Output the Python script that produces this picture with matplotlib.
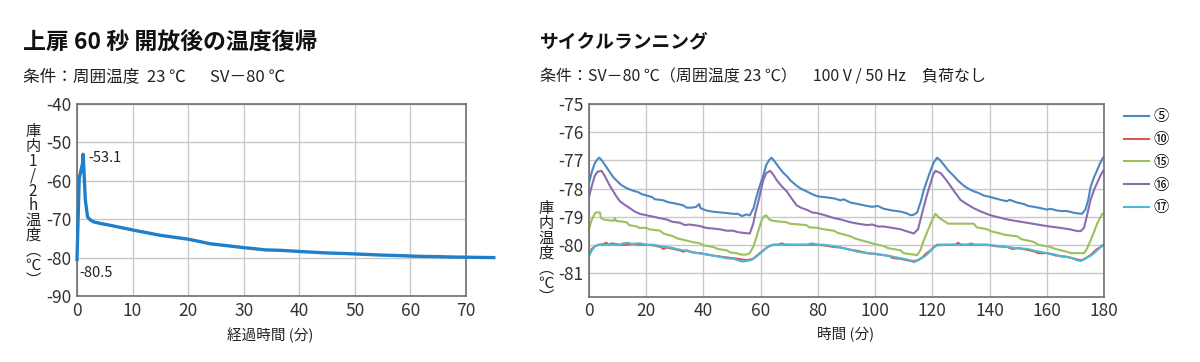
import matplotlib
matplotlib.use("Agg")
import matplotlib.pyplot as plt

plt.rcParams['font.family'] = ['Noto Sans CJK JP', 'DejaVu Sans']
plt.rcParams['axes.unicode_minus'] = False

# left chart: door open 60 s, recovery
rec_t = [0, 0.4, 1.0, 1.1, 1.5, 1.9, 2.4, 3.0, 4.2, 6, 8, 10, 12.5, 15, 17.5, 20, 22,
         24, 27, 30, 32, 34, 36.5, 40, 42.5, 45, 47.5, 50, 52.5, 55, 57.5, 60, 62.5,
         65, 67.5, 70, 72.5, 75]
rec_v = [-80.5, -59.3, -55.5, -53.1, -65.0, -69.4, -70.2, -70.7, -71.1, -71.6, -72.2,
         -72.8, -73.5, -74.2, -74.7, -75.2, -75.8, -76.4, -76.9, -77.4, -77.7, -78.0,
         -78.1, -78.4, -78.6, -78.8, -78.9, -79.05, -79.2, -79.35, -79.45, -79.6,
         -79.7, -79.75, -79.85, -79.9, -79.95, -80.0]
rec_ticks_x = [0, 10, 20, 30, 40, 50, 60, 70]
rec_ticks_y = [-40, -50, -60, -70, -80, -90]

# right chart: cycle running
s5_t = [0, 1, 2, 3, 3.6, 4.5, 5.5, 6.5, 7.5, 8.5, 9.7, 11, 12, 13.5, 15.5, 17, 18.5, 20.2,
        22, 23, 24.8, 26, 27.5, 29.5, 31, 33, 34.1, 36, 37.5, 38.5, 39, 41, 43, 45.8, 48,
        50.4, 52, 53.5, 55, 56.2, 57.5, 58.5, 59.7, 61, 62, 63, 63.8, 65, 66.8, 68, 69.1,
        70.5, 72.6, 74, 76, 78, 80, 82, 85.6, 88, 89, 91.4, 94, 97.2, 99, 101, 103, 106,
        108.9, 111, 112.5, 113.5, 114.7, 116, 117, 118.2, 119.4, 120.6, 121.7, 122.8, 124,
        125.5, 127.5, 129, 131, 132.5, 134.5, 136, 138, 140.3, 142, 143.8, 146, 147, 149.7,
        152, 153.5, 155.5, 158, 160, 161.3, 163.5, 165, 167, 169, 170.5, 172.3, 173.5,
        174.5, 175.3, 176.5, 177.6, 178.6, 179.7]
s5_v = [-77.8, -77.4, -77.1, -76.95, -76.9, -77.0, -77.15, -77.3, -77.45, -77.6, -77.72,
        -77.85, -77.92, -78.0, -78.08, -78.12, -78.2, -78.25, -78.3, -78.38, -78.4, -78.42,
        -78.48, -78.52, -78.55, -78.6, -78.68, -78.68, -78.65, -78.55, -78.7, -78.78,
        -78.82, -78.85, -78.87, -78.9, -78.9, -78.98, -78.92, -78.95, -78.7, -78.3, -77.9,
        -77.5, -77.15, -76.98, -76.9, -77.05, -77.3, -77.45, -77.55, -77.72, -77.9, -78.0,
        -78.1, -78.2, -78.28, -78.3, -78.35, -78.42, -78.38, -78.5, -78.55, -78.62, -78.65,
        -78.62, -78.72, -78.78, -78.82, -78.88, -78.95, -78.93, -78.85, -78.45, -78.05,
        -77.7, -77.35, -77.05, -76.9, -77.0, -77.15, -77.35, -77.55, -77.72, -77.9, -78.0,
        -78.1, -78.15, -78.25, -78.3, -78.35, -78.4, -78.45, -78.4, -78.5, -78.55, -78.62,
        -78.65, -78.7, -78.75, -78.72, -78.78, -78.8, -78.8, -78.85, -78.88, -78.9, -78.75,
        -78.4, -77.95, -77.6, -77.35, -77.1, -76.9]

s10_t = [0, 1, 2.1, 3.5, 5, 6, 7, 8, 10.8, 13, 15, 17.8, 20, 22.5, 25, 26, 27.1, 29.5,
         31.8, 33, 34, 36.5, 39, 41, 43, 45.8, 48, 50.4, 52, 55, 57.4, 58.5, 59.7, 61, 62,
         63, 64.4, 66, 67.5, 68.5, 72, 76, 80, 82, 85.6, 88, 91.4, 94, 97.2, 100, 103, 105,
         106, 108.9, 111, 113.5, 115, 116.5, 118, 119.4, 120.5, 121.7, 125, 128, 129, 130,
         132.2, 136, 139.2, 142, 146.2, 148, 150, 153.2, 156, 157, 160.2, 163, 167, 169,
         171.8, 173, 174.1, 175.5, 176.5, 177.6, 178.5, 179.7]
s10_v = [-80.3, -80.15, -80.05, -80.0, -79.98, -79.93, -80.0, -79.95, -80.0, -80.0, -79.98,
         -80.0, -80.0, -80.02, -80.08, -80.15, -80.1, -80.15, -80.2, -80.25, -80.2, -80.28,
         -80.3, -80.35, -80.38, -80.42, -80.45, -80.48, -80.5, -80.55, -80.5, -80.4, -80.3,
         -80.2, -80.1, -80.05, -80.0, -80.0, -79.95, -80.0, -80.0, -80.0, -80.0, -80.02,
         -80.08, -80.1, -80.18, -80.22, -80.3, -80.33, -80.37, -80.4, -80.47, -80.5, -80.55,
         -80.58, -80.55, -80.45, -80.3, -80.2, -80.08, -80.0, -80.0, -80.0, -79.93, -80.0,
         -80.0, -80.0, -80.0, -80.05, -80.08, -80.15, -80.12, -80.18, -80.25, -80.3, -80.3,
         -80.38, -80.43, -80.48, -80.55, -80.52, -80.45, -80.35, -80.25, -80.15, -80.1, -80.0]

s15_t = [0, 1, 2, 2.4, 3.8, 4.2, 5, 8.5, 9, 9.5, 13.2, 14, 16.7, 17.5, 20.2, 21, 24.8, 26,
         29.5, 31, 34.1, 36, 38.8, 40, 43.4, 45, 48.1, 49.5, 51.6, 53, 55, 56.2, 57.5, 58.6,
         59.5, 60.3, 61, 61.9, 63, 64.4, 67, 69.1, 70, 76, 77, 80, 82, 85.6, 87, 91.4, 93,
         97.2, 99, 103, 104.5, 108.9, 110, 114.7, 115.8, 117, 118.2, 119.4, 120.3, 121.1,
         122.5, 124, 125.5, 129.8, 134.5, 135.5, 139.2, 140.5, 143.8, 145.5, 149.7, 151,
         155.5, 157, 161.3, 163, 167, 168.5, 173, 174, 175.3, 176.5, 177.6, 178.6, 179.4]
s15_v = [-79.45, -79.1, -78.9, -78.85, -78.85, -79.05, -79.1, -79.15, -79.05, -79.15,
         -79.2, -79.3, -79.35, -79.4, -79.4, -79.45, -79.5, -79.6, -79.7, -79.78, -79.85,
         -79.9, -79.95, -80.02, -80.08, -80.15, -80.2, -80.28, -80.3, -80.35, -80.35, -80.3,
         -80.05, -79.7, -79.4, -79.15, -79.0, -78.95, -79.1, -79.15, -79.18, -79.2, -79.25,
         -79.3, -79.38, -79.4, -79.45, -79.5, -79.58, -79.7, -79.78, -79.9, -79.95, -80.05,
         -80.12, -80.2, -80.3, -80.37, -80.2, -79.85, -79.55, -79.25, -79.05, -78.9, -79.05,
         -79.15, -79.25, -79.25, -79.25, -79.38, -79.45, -79.52, -79.6, -79.65, -79.7, -79.8,
         -79.9, -80.0, -80.08, -80.15, -80.25, -80.3, -80.3, -80.15, -79.85, -79.55, -79.25,
         -79.05, -78.9]

s16_t = [0, 1, 2, 3, 4.4, 5.5, 6.5, 7.3, 8.5, 9.7, 10.8, 12.5, 14.3, 16, 17.8, 20, 22.5,
         24.5, 27.1, 29, 31.8, 33.5, 35, 36.5, 38.5, 41, 43, 45.8, 48, 50.4, 52, 54, 56.2,
         57.4, 58.2, 59.1, 60, 60.9, 62, 63.3, 64.4, 65.6, 67.2, 69.1, 70.8, 72.6, 74.5, 76,
         78, 80, 82.5, 85.6, 88, 91.4, 94, 97.2, 99, 101, 103, 106, 108.9, 111, 113.5, 115,
         116, 117, 118.2, 119.4, 120.3, 121.1, 122.9, 124.5, 126.3, 128, 129.8, 132, 134.5,
         137, 140.3, 143, 146.2, 149, 152, 155, 157.8, 161, 164.8, 168, 170, 171.8, 173,
         174.2, 175.3, 176.5, 177.6, 178.7, 179.7]
s16_v = [-78.3, -77.9, -77.55, -77.4, -77.37, -77.55, -77.75, -77.9, -78.1, -78.3, -78.45,
         -78.58, -78.7, -78.82, -78.9, -78.95, -79.0, -79.05, -79.1, -79.18, -79.22, -79.3,
         -79.28, -79.3, -79.33, -79.4, -79.42, -79.45, -79.5, -79.5, -79.55, -79.58, -79.6,
         -79.25, -78.85, -78.5, -78.1, -77.7, -77.45, -77.37, -77.5, -77.7, -77.9, -78.1,
         -78.35, -78.6, -78.7, -78.75, -78.85, -78.88, -78.95, -79.05, -79.1, -79.2, -79.25,
         -79.3, -79.28, -79.35, -79.35, -79.4, -79.45, -79.52, -79.6, -79.45, -79.05, -78.65,
         -78.2, -77.8, -77.5, -77.37, -77.45, -77.65, -77.9, -78.15, -78.4, -78.55, -78.7,
         -78.82, -78.95, -79.02, -79.1, -79.15, -79.2, -79.25, -79.3, -79.35, -79.4, -79.45,
         -79.5, -79.52, -79.4, -78.9, -78.4, -78.05, -77.8, -77.55, -77.37]

s17_t = [0, 1, 2.1, 3.5, 6, 9, 10.8, 12, 13.5, 15, 17.8, 20, 22.5, 25, 27.1, 29.5, 31.8,
         34, 36.5, 39, 41, 43, 45.8, 48, 50.4, 52, 53.5, 55, 56.5, 57.4, 58.5, 59.7, 61, 62,
         63, 64.4, 68, 72, 76, 78, 80, 82, 85.6, 88, 91.4, 94, 97.2, 100, 103, 106, 108.9,
         111, 112.5, 113.5, 114.5, 115.9, 117.5, 119.4, 120.5, 121.7, 125, 128, 132.2,
         133.5, 135, 139.2, 142, 146.2, 149, 153.2, 156, 160.2, 163, 165, 167, 169, 170.5,
         171.8, 173, 174.1, 175.5, 176.5, 177.6, 178.7, 179.7]
s17_v = [-80.4, -80.2, -80.05, -80.0, -80.0, -80.0, -80.0, -79.95, -79.93, -79.97, -79.95,
         -80.0, -80.0, -80.05, -80.08, -80.12, -80.18, -80.22, -80.27, -80.32, -80.33,
         -80.38, -80.43, -80.48, -80.5, -80.55, -80.6, -80.58, -80.55, -80.5, -80.42, -80.32,
         -80.2, -80.12, -80.05, -80.0, -80.0, -80.0, -80.0, -79.95, -80.0, -80.0, -80.05,
         -80.1, -80.18, -80.25, -80.3, -80.32, -80.37, -80.42, -80.48, -80.52, -80.58,
         -80.62, -80.58, -80.5, -80.4, -80.22, -80.1, -80.02, -80.0, -80.0, -80.0, -79.95,
         -80.0, -80.0, -80.03, -80.08, -80.12, -80.15, -80.22, -80.3, -80.35, -80.42, -80.43,
         -80.48, -80.55, -80.58, -80.52, -80.45, -80.38, -80.3, -80.2, -80.1, -80.02]

cyc_labels = ['⑤', '⑩', '⑮', '⑯', '⑰']
cyc_colors = ['#4b87c5', '#d9574a', '#9cc05c', '#8a6cb0', '#4cb8d4']
cyc_ticks_x = [0, 20, 40, 60, 80, 100, 120, 140, 160, 180]
cyc_ticks_y = [-75, -76, -77, -78, -79, -80, -81]

W, H = 1200, 362
fig = plt.figure(figsize=(W / 100, H / 100), dpi=100)

def style_ax(ax):
    ax.grid(True, color='#c8c8c8', lw=1.0)
    ax.set_axisbelow(True)
    for s in ax.spines.values():
        s.set_color('#6e6e6e')
        s.set_linewidth(1.2)
    ax.tick_params(length=0, labelsize=12.5, colors='#333333', pad=4)

def vertical_label(text, x, y_top, step):
    # stacked one-character-per-line label, like Japanese vertical writing
    for i, ch in enumerate(text):
        fig.text(x / W, 1 - (y_top + i * step) / H, ch, fontsize=11,
                 ha='center', va='center', color='#222222')

# ---- left chart
ax1 = fig.add_axes([77 / W, 1 - 296 / H, 389 / W, 192 / H])
ax1.plot(rec_t, rec_v, color='#1f7fc8', lw=2.4, clip_on=False, zorder=3)
ax1.set_xlim(0, 70)
ax1.set_ylim(-90, -40)
ax1.set_xticks(rec_ticks_x)
ax1.set_yticks(rec_ticks_y)
style_ax(ax1)
ax1.annotate('-53.1', (rec_t[3], rec_v[3]), xytext=(4, -3), textcoords='offset points',
             fontsize=10.5, color='#222222', ha='left', va='center')
ax1.annotate('-80.5', (rec_t[0], rec_v[0]), xytext=(2, -10), textcoords='offset points',
             fontsize=10.5, color='#222222', ha='left', va='center')

# ---- right chart
ax2 = fig.add_axes([589 / W, 1 - 296.7 / H, 515 / W, 192.4 / H])
series = [(s5_t, s5_v), (s10_t, s10_v), (s15_t, s15_v), (s16_t, s16_v), (s17_t, s17_v)]
handles = []
for (t, v), lab, c in zip(series, cyc_labels, cyc_colors):
    h, = ax2.plot(t, v, color=c, lw=1.5, label=lab)
    handles.append(h)
ax2.set_xlim(0, 180)
ax2.set_ylim(-81.85, -75)
ax2.set_xticks(cyc_ticks_x)
ax2.set_yticks(cyc_ticks_y)
style_ax(ax2)
fig.legend(handles=handles, loc='upper left', bbox_to_anchor=(1118 / W, 1 - 102 / H),
           frameon=False, fontsize=11, handlelength=1.6, handletextpad=0.3,
           labelspacing=0.38, borderaxespad=0)

# ---- texts
fig.text(23 / W, 1 - 42 / H, '上扉 60 秒 開放後の温度復帰', fontsize=16.5, fontweight='bold',
         ha='left', va='center', color='#111111')
fig.text(23 / W, 1 - 77 / H, '条件：周囲温度  23 ℃　  SV－80 ℃', fontsize=12,
         ha='left', va='center', color='#222222')
fig.text(540 / W, 1 - 42 / H, 'サイクルランニング', fontsize=13.5, fontweight='bold',
         ha='left', va='center', color='#111111')
fig.text(540 / W, 1 - 77 / H, '条件：SV－80 ℃（周囲温度 23 ℃）　100 V / 50 Hz　負荷なし',
         fontsize=11.5, ha='left', va='center', color='#222222')

vertical_label('庫内1/2h温度︵℃︶', 33, 132, 14.8)
vertical_label('庫内温度︵℃︶', 546, 209, 14.8)

fig.text(270 / W, 1 - 335 / H, '経過時間 (分)', fontsize=10.5, ha='center', va='center',
         color='#222222')
fig.text(846 / W, 1 - 335 / H, '時間 (分)', fontsize=10.5, ha='center', va='center',
         color='#222222')

fig.savefig('out.png', dpi=100)
